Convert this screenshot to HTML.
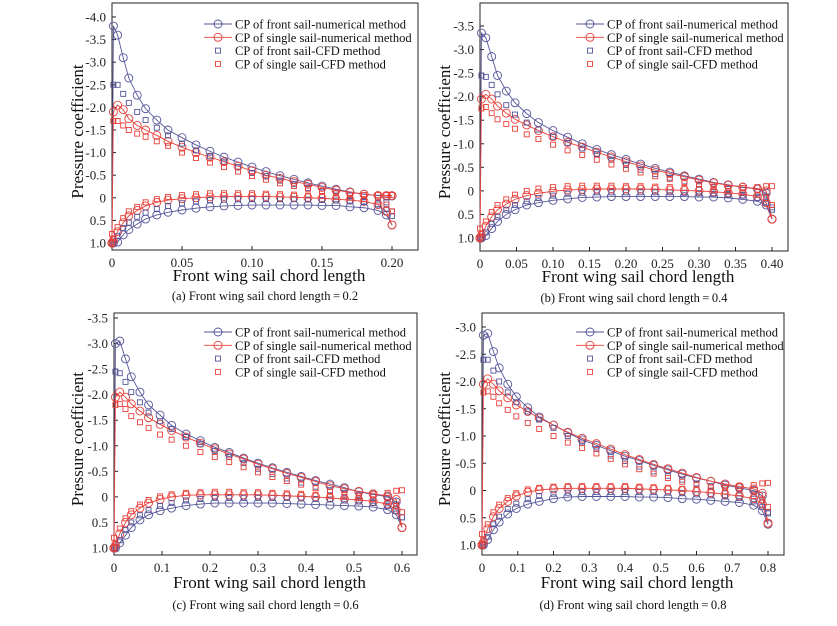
<!DOCTYPE html>
<html><head><meta charset="utf-8"><style>
html,body{margin:0;padding:0;background:#fff;}
svg{display:block;font-family:"Liberation Serif",serif;}
</style></head><body>
<svg id="c" width="837" height="626" viewBox="0 0 837 626"></svg>
<script>
const xs = [0,0.005,0.02,0.04,0.06,0.09,0.12,0.16,0.2,0.25,0.3,0.35,0.4,0.45,0.5,0.55,0.6,0.65,0.7,0.75,0.8,0.85,0.9,0.95,0.98,1.0];
// panel a
const a_fnU=[1.0,-3.8,-3.6,-3.1,-2.65,-2.27,-1.97,-1.72,-1.5,-1.33,-1.17,-1.03,-0.9,-0.79,-0.68,-0.58,-0.49,-0.41,-0.33,-0.26,-0.19,-0.13,-0.08,-0.05,-0.04,-0.04];
const a_fnL=[1.0,1.0,0.98,0.82,0.7,0.58,0.47,0.38,0.32,0.27,0.23,0.2,0.18,0.17,0.16,0.16,0.16,0.16,0.16,0.17,0.17,0.2,0.22,0.28,0.38,0.6];
const a_snU=[1.0,-1.9,-2.05,-1.95,-1.75,-1.6,-1.5,-1.38,-1.25,-1.12,-1.0,-0.9,-0.8,-0.7,-0.6,-0.5,-0.43,-0.36,-0.3,-0.23,-0.17,-0.12,-0.08,-0.05,-0.05,-0.05];
const a_snL=[1.0,0.95,0.75,0.55,0.4,0.28,0.18,0.1,0.05,0.02,0.0,-0.02,-0.03,-0.03,-0.03,-0.03,-0.02,-0.01,0,0.01,0.03,0.05,0.08,0.15,0.3,0.6];
const a_fcU=[1.0,-2.5,-2.5,-2.3,-2.1,-1.9,-1.72,-1.55,-1.38,-1.2,-1.05,-0.92,-0.8,-0.68,-0.55,-0.48,-0.38,-0.3,-0.22,-0.15,-0.1,-0.05,-0.03,0.0,0.1,0.3];
const a_fcL=[1.0,1.0,0.85,0.67,0.55,0.42,0.33,0.25,0.18,0.12,0.08,0.05,0.04,0.03,0.03,0.03,0.03,0.03,0.04,0.05,0.06,0.08,0.1,0.15,0.25,0.4];
const a_scU=[0.8,-1.7,-1.7,-1.6,-1.5,-1.42,-1.35,-1.25,-1.15,-1.0,-0.88,-0.78,-0.68,-0.58,-0.48,-0.4,-0.32,-0.26,-0.2,-0.15,-0.1,-0.07,-0.06,-0.06,-0.06,-0.06];
const a_scL=[1.0,0.9,0.65,0.45,0.3,0.2,0.1,0.03,-0.02,-0.06,-0.08,-0.1,-0.1,-0.1,-0.1,-0.09,-0.08,-0.07,-0.05,-0.04,-0.02,0.0,0.03,0.08,0.15,0.3];
// panel b
const b_fnU=[1.0,-3.35,-3.25,-2.85,-2.45,-2.12,-1.87,-1.64,-1.45,-1.28,-1.14,-1.0,-0.88,-0.77,-0.67,-0.57,-0.48,-0.4,-0.32,-0.25,-0.18,-0.13,-0.08,-0.04,0.05,0.6];
const b_fnL=[1.0,1.0,0.95,0.8,0.65,0.5,0.4,0.3,0.25,0.2,0.17,0.14,0.13,0.12,0.12,0.12,0.12,0.12,0.12,0.13,0.13,0.15,0.18,0.22,0.3,0.6];
const b_snU=[1.0,-1.95,-2.05,-1.95,-1.8,-1.65,-1.52,-1.4,-1.28,-1.15,-1.03,-0.93,-0.82,-0.72,-0.62,-0.53,-0.44,-0.37,-0.3,-0.23,-0.17,-0.12,-0.08,-0.05,0.0,0.6];
const b_snL=[1.0,0.95,0.75,0.55,0.4,0.28,0.18,0.1,0.05,0.01,-0.02,-0.03,-0.04,-0.04,-0.04,-0.04,-0.03,-0.02,-0.01,0.0,0.02,0.04,0.07,0.12,0.25,0.6];
const b_fcU=[1.0,-2.45,-2.42,-2.25,-2.05,-1.82,-1.62,-1.45,-1.3,-1.15,-1.02,-0.9,-0.78,-0.66,-0.55,-0.45,-0.36,-0.28,-0.2,-0.13,-0.08,-0.04,-0.02,0.02,0.12,0.35];
const b_fcL=[1.0,1.0,0.88,0.7,0.55,0.4,0.3,0.22,0.15,0.1,0.06,0.04,0.03,0.03,0.03,0.03,0.03,0.03,0.04,0.05,0.06,0.08,0.1,0.15,0.25,0.4];
const b_scU=[0.8,-1.75,-1.78,-1.65,-1.52,-1.42,-1.32,-1.2,-1.1,-0.98,-0.86,-0.76,-0.66,-0.56,-0.47,-0.39,-0.31,-0.25,-0.19,-0.14,-0.09,-0.06,-0.06,-0.08,-0.1,-0.1];
const b_scL=[1.0,0.9,0.65,0.45,0.3,0.18,0.08,0.0,-0.05,-0.08,-0.1,-0.11,-0.11,-0.11,-0.1,-0.1,-0.09,-0.08,-0.06,-0.04,-0.02,0.0,0.03,0.08,0.15,0.3];
// panel c
const c_fnU=[1.0,-3.0,-3.05,-2.7,-2.35,-2.05,-1.8,-1.6,-1.4,-1.23,-1.1,-0.97,-0.87,-0.76,-0.66,-0.57,-0.48,-0.4,-0.32,-0.25,-0.18,-0.1,-0.05,0.0,0.1,0.6];
const c_fnL=[1.0,1.0,0.9,0.75,0.6,0.45,0.35,0.27,0.22,0.17,0.14,0.12,0.12,0.12,0.12,0.12,0.13,0.14,0.15,0.16,0.17,0.18,0.2,0.25,0.35,0.6];
const c_snU=[1.0,-1.95,-2.05,-1.95,-1.82,-1.68,-1.55,-1.42,-1.3,-1.17,-1.05,-0.94,-0.84,-0.74,-0.64,-0.55,-0.46,-0.38,-0.3,-0.22,-0.16,-0.11,-0.06,-0.02,0.05,0.6];
const c_snL=[1.0,0.95,0.72,0.5,0.35,0.22,0.12,0.05,0.0,-0.03,-0.04,-0.04,-0.04,-0.04,-0.04,-0.03,-0.02,-0.01,0.0,0.02,0.04,0.06,0.09,0.14,0.25,0.6];
const c_fcU=[1.0,-2.45,-2.42,-2.25,-2.05,-1.85,-1.65,-1.48,-1.33,-1.17,-1.03,-0.9,-0.78,-0.66,-0.55,-0.45,-0.36,-0.28,-0.2,-0.13,-0.08,-0.04,0.0,0.05,0.15,0.4];
const c_fcL=[1.0,1.0,0.85,0.65,0.5,0.36,0.26,0.18,0.12,0.07,0.04,0.02,0.02,0.02,0.02,0.02,0.02,0.03,0.04,0.05,0.07,0.09,0.12,0.18,0.28,0.4];
const c_scU=[0.8,-1.8,-1.82,-1.72,-1.58,-1.46,-1.35,-1.22,-1.12,-1.0,-0.88,-0.78,-0.68,-0.58,-0.48,-0.39,-0.31,-0.24,-0.17,-0.1,-0.05,-0.02,-0.05,-0.08,-0.12,-0.13];
const c_scL=[1.0,0.9,0.62,0.42,0.28,0.15,0.06,-0.01,-0.05,-0.08,-0.09,-0.1,-0.1,-0.09,-0.09,-0.08,-0.07,-0.06,-0.04,-0.02,0.0,0.02,0.05,0.1,0.18,0.3];
// panel d
const d_fnU=[1.0,-2.85,-2.88,-2.55,-2.25,-1.95,-1.72,-1.52,-1.35,-1.2,-1.06,-0.93,-0.83,-0.73,-0.63,-0.55,-0.46,-0.38,-0.3,-0.23,-0.17,-0.1,-0.05,0.0,0.1,0.6];
const d_fnL=[1.0,1.0,0.9,0.72,0.58,0.43,0.33,0.25,0.2,0.15,0.12,0.11,0.11,0.11,0.11,0.12,0.12,0.13,0.15,0.16,0.18,0.2,0.22,0.27,0.37,0.62];
const d_snU=[1.0,-1.95,-2.05,-1.95,-1.83,-1.7,-1.57,-1.45,-1.33,-1.2,-1.07,-0.96,-0.86,-0.76,-0.66,-0.57,-0.48,-0.4,-0.32,-0.24,-0.17,-0.12,-0.07,-0.03,0.05,0.6];
const d_snL=[1.0,0.95,0.7,0.48,0.33,0.2,0.1,0.03,-0.01,-0.03,-0.04,-0.04,-0.04,-0.04,-0.04,-0.03,-0.02,-0.01,0.0,0.02,0.04,0.07,0.1,0.15,0.25,0.6];
const d_fcU=[1.0,-2.4,-2.4,-2.2,-2.0,-1.8,-1.62,-1.45,-1.3,-1.15,-1.0,-0.88,-0.76,-0.64,-0.54,-0.44,-0.35,-0.27,-0.2,-0.13,-0.08,-0.04,0.0,0.06,0.18,0.4];
const d_fcL=[1.0,1.0,0.85,0.62,0.48,0.34,0.24,0.16,0.1,0.06,0.04,0.03,0.03,0.03,0.03,0.03,0.03,0.04,0.05,0.07,0.09,0.11,0.14,0.2,0.3,0.42];
const d_scU=[0.8,-1.8,-1.82,-1.72,-1.6,-1.48,-1.36,-1.24,-1.13,-1.0,-0.88,-0.78,-0.68,-0.58,-0.48,-0.39,-0.31,-0.23,-0.16,-0.1,-0.06,-0.05,-0.08,-0.1,-0.13,-0.14];
const d_scL=[1.0,0.9,0.62,0.4,0.26,0.14,0.05,-0.02,-0.05,-0.07,-0.08,-0.08,-0.08,-0.08,-0.08,-0.07,-0.06,-0.05,-0.03,-0.02,0.0,0.02,0.05,0.1,0.18,0.3];

const chords=[0.2,0.4,0.6,0.8];
const xTickA=["0","0.05","0.10","0.15","0.20"];
const xTickB=["0","0.05","0.10","0.15","0.20","0.25","0.30","0.35","0.40"];
const xTickC=["0","0.1","0.2","0.3","0.4","0.5","0.6"];
const xTickD=["0","0.1","0.2","0.3","0.4","0.5","0.6","0.7","0.8"];
const yTickA=[-4.0,-3.5,-3.0,-2.5,-2.0,-1.5,-1.0,-0.5,0,0.5,1.0];
const yTickB=[-3.5,-3.0,-2.5,-2.0,-1.5,-1.0,-0.5,0,0.5,1.0];
const yTickC=[-3.5,-3.0,-2.5,-2.0,-1.5,-1.0,-0.5,0,0.5,1.0];
const yTickD=[-3.0,-2.5,-2.0,-1.5,-1.0,-0.5,0,0.5,1.0];
const captions=["(a) Front wing sail chord length\u2009=\u20090.2","(b) Front wing sail chord length\u2009=\u20090.4","(c) Front wing sail chord length\u2009=\u20090.6","(d) Front wing sail chord length\u2009=\u20090.8"];

const BLUE="#55559a", RED="#e8403a";
const NS="http://www.w3.org/2000/svg";
const svg=document.getElementById('c');
function mk(tag,attrs,parent){const e=document.createElementNS(NS,tag);for(const k in attrs)e.setAttribute(k,attrs[k]);(parent||svg).appendChild(e);return e;}

const panels=[
 {id:'a',L:112,R:418,T:3,B:250,x0:112,x1:392,xmax:0.2,ylo:-4.0,yloPx:17,yhiPx:243,xt:xTickA,yt:yTickA,legX:204,legY:24,titleY:281,capY:300,ytX:78,
  d:[a_fnU,a_fnL,a_snU,a_snL,a_fcU,a_fcL,a_scU,a_scL]},
 {id:'b',L:480,R:788,T:3,B:251,x0:480,x1:772,xmax:0.4,ylo:-3.5,yloPx:26,yhiPx:238,xt:xTickB,yt:yTickB,legX:576,legY:24,titleY:282,capY:302,ytX:445,
  d:[b_fnU,b_fnL,b_snU,b_snL,b_fcU,b_fcL,b_scU,b_scL]},
 {id:'c',L:114,R:417,T:313,B:555,x0:114,x1:402,xmax:0.6,ylo:-3.5,yloPx:318,yhiPx:548,xt:xTickC,yt:yTickC,legX:204,legY:332,titleY:588,capY:609,ytX:78,
  d:[c_fnU,c_fnL,c_snU,c_snL,c_fcU,c_fcL,c_scU,c_scL]},
 {id:'d',L:482,R:784,T:313,B:555,x0:482,x1:768,xmax:0.8,ylo:-3.0,yloPx:327,yhiPx:545,xt:xTickD,yt:yTickD,legX:576,legY:332,titleY:588,capY:609,ytX:445,
  d:[d_fnU,d_fnL,d_snU,d_snL,d_fcU,d_fcL,d_scU,d_scL]}
];

panels.forEach((p,pi)=>{
  const g=mk('g',{});
  
  
  const chord=chords[pi];
  const sx=v=>p.x0+(v/p.xmax)*(p.x1-p.x0);
  const sy=v=>p.yloPx+(v-p.ylo)/(1.0-p.ylo)*(p.yhiPx-p.yloPx);
  const frame=mk('rect',{x:p.L,y:p.T,width:p.R-p.L,height:p.B-p.T,fill:'none',stroke:'#222','stroke-width':1},g);
  
  
  p.xt.forEach((t,i)=>{
    const v=i*p.xmax/(p.xt.length-1);
    const x=sx(v);
    mk('line',{x1:x,y1:p.B,x2:x,y2:p.B-4,stroke:'#222'},g);
    const tx=mk('text',{x:x,y:p.B+17,'font-size':13,'text-anchor':'middle',fill:'#222'},g);
    tx.textContent=t;
    
    
  });
  p.yt.forEach(v=>{
    const y=sy(v);
    mk('line',{x1:p.L,y1:y,x2:p.L+4,y2:y,stroke:'#222'},g);
    const tx=mk('text',{x:p.L-6,y:y+4.5,'font-size':13,'text-anchor':'end',fill:'#222'},g);
    tx.textContent=v===0?'0':v.toFixed(1);
    
    
  });
  const cx=(p.L+p.R)/2, cy=(p.T+p.B)/2;
  const xt=mk('text',{x:cx+4,y:p.titleY,'font-size':17,'text-anchor':'middle',fill:'#111'},g);
  xt.textContent='Front wing sail chord length';
  
  
  const yt=mk('text',{x:p.ytX,y:cy,'font-size':17,'text-anchor':'middle',fill:'#111',transform:'rotate(-90 '+(p.ytX+5)+' '+cy+')'},g);
  yt.textContent='Pressure coefficient';
  
  
  const cap=mk('text',{x:cx,y:p.capY,'font-size':12.5,'text-anchor':'middle',fill:'#111'},g);
  cap.textContent=captions[pi];
  
  

  const names=['front-numerical','single-numerical','front-cfd','single-cfd'];
  const cols=[BLUE,RED,BLUE,RED];
  for(let s=0;s<4;s++){
    const up=p.d[s*2], lo=p.d[s*2+1];
    const sg=mk('g',{},g);
    
    
    const pts=[];
    for(let i=xs.length-1;i>=0;i--) pts.push([sx(xs[i]*chord),sy(up[i])]);
    for(let i=0;i<xs.length;i++) pts.push([sx(xs[i]*chord),sy(lo[i])]);
    if(s<2){
      const pl=mk('polyline',{points:pts.map(q=>q.join(',')).join(' '),fill:'none',stroke:cols[s],'stroke-width':0.9},sg);
      
      
    }
    pts.forEach(q=>{
      let m;
      if(s<2) m=mk('circle',{cx:q[0],cy:q[1],r:4,fill:'none',stroke:cols[s],'stroke-width':0.9},sg);
      else m=mk('rect',{x:q[0]-2.5,y:q[1]-2.5,width:5,height:5,fill:'none',stroke:cols[s],'stroke-width':0.9},sg);
      
      
    });
  }
  const lg=mk('g',{},g);
  
  
  const labels=['CP of front sail-numerical method','CP of single sail-numerical method','CP of front sail-CFD method','CP of single sail-CFD method'];
  labels.forEach((l,i)=>{
    const y=p.legY+i*13.3;
    const eg=mk('g',{},lg);
    
    
    if(i<2){
      mk('line',{x1:p.legX,y1:y,x2:p.legX+28,y2:y,stroke:cols[i],'stroke-width':0.9},eg);
      mk('circle',{cx:p.legX+14,cy:y,r:4,fill:'none',stroke:cols[i],'stroke-width':0.9},eg);
    } else {
      mk('rect',{x:p.legX+11.5,y:y-2.5,width:5,height:5,fill:'none',stroke:cols[i],'stroke-width':0.9},eg);
    }
    const t=mk('text',{x:p.legX+31,y:y+4.5,'font-size':12.5,fill:'#111'},eg);
    t.textContent=l;
  });
});
</script>
</body></html>
